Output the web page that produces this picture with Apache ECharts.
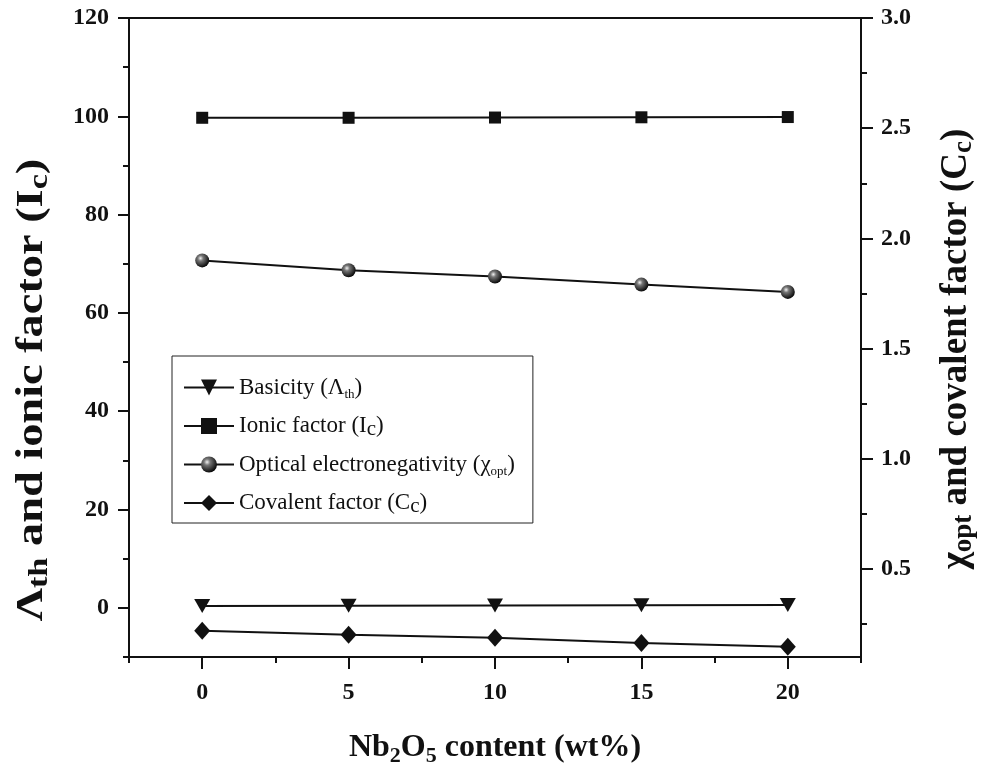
<!DOCTYPE html>
<html>
<head>
<meta charset="utf-8">
<script src="https://cdn.jsdelivr.net/npm/echarts@6/dist/echarts.min.js"></script>
<style>html,body{margin:0;padding:0;background:#fff;}#c{width:983px;height:774px;}</style>
</head>
<body>
<div id="c"></div>
<script>
const nb2o5 = [0, 5, 10, 15, 20];
const basicity = [0.4, 0.45, 0.5, 0.55, 0.6];
const ionicFactor = [99.7, 99.7, 99.75, 99.8, 99.85];
const opticalElectroneg = [1.90, 1.855, 1.827, 1.790, 1.757];
const covalentFactor = [0.219, 0.201, 0.187, 0.164, 0.146];
const leftTicks = [0, 20, 40, 60, 80, 100, 120];
const leftMinorTicks = [-10, 10, 30, 50, 70, 90, 110];
const rightTicks = [0.5, 1.0, 1.5, 2.0, 2.5, 3.0];
const rightMinorTicks = [0.25, 0.75, 1.25, 1.75, 2.25, 2.75];
const xTicks = [0, 5, 10, 15, 20];
const xMinorTicks = [-2.5, 2.5, 7.5, 12.5, 17.5, 22.5];
const seriesNames = ['Basicity', 'Ionic factor', 'Optical electronegativity', 'Covalent factor'];

const FONT = '"Liberation Serif", "Times New Roman", serif';
const chart = echarts.init(document.getElementById('c'));
const axisLine = {show: true, onZero: false, lineStyle: {color: '#111', width: 2}};
const labelStyle = {fontFamily: FONT, fontWeight: 'bold', fontSize: 24, color: '#111'};
const xNameRich = {
  b: {fontFamily: FONT, fontWeight: 'bold', fontSize: 32, lineHeight: 38, color: '#111'},
  n: {fontFamily: FONT, fontWeight: 'bold', fontSize: 22, lineHeight: 22, verticalAlign: 'bottom', color: '#111'}
};
const titleRich = {
  b: {fontFamily: FONT, fontWeight: 'bold', fontSize: 38, lineHeight: 44, fill: '#111'},
  s: {fontFamily: FONT, fontWeight: 'bold', fontSize: 28, lineHeight: 26, verticalAlign: 'bottom', fill: '#111'}
};
const rightTitleRich = {
  b: {fontFamily: FONT, fontWeight: 'bold', fontSize: 37, lineHeight: 44, fill: '#111'},
  s: {fontFamily: FONT, fontWeight: 'bold', fontSize: 27, lineHeight: 26, verticalAlign: 'bottom', fill: '#111'}
};
const legRich = {
  m: {fontFamily: FONT, fontSize: 23, lineHeight: 28, color: '#111'},
  s: {fontFamily: FONT, fontSize: 13, lineHeight: 14, verticalAlign: 'bottom', color: '#111'},
  c: {fontFamily: FONT, fontSize: 21, lineHeight: 18, verticalAlign: 'bottom', color: '#111'}
};
const legendLabels = {
  'Basicity': '{m|Basicity (Λ}{s|th}{m|)}',
  'Ionic factor': '{m|Ionic factor (I}{c|c}{m|)}',
  'Optical electronegativity': '{m|Optical electronegativity (χ}{s|opt}{m|)}',
  'Covalent factor': '{m|Covalent factor (C}{c|c}{m|)}'
};
const sphere = {type: 'radial', x: 0.38, y: 0.35, r: 0.65,
  colorStops: [{offset: 0, color: '#f2f2f2'}, {offset: 0.3, color: '#777'}, {offset: 1, color: '#0a0a0a'}]};

function pairs(ys) { return nb2o5.map((x, i) => [x, ys[i]]); }

chart.setOption({
  animation: false,
  backgroundColor: '#fff',
  grid: {left: 129, right: 122, top: 18, bottom: 117, show: true, borderColor: '#111', borderWidth: 2, backgroundColor: 'transparent'},
  graphic: [{
    type: 'text', x: 32, y: 390, rotation: Math.PI / 2, scaleX: 1.22, scaleY: 1,
    style: {text: '{b|Λ}{s|th}{b| and ionic factor (I}{s|c}{b|)}', rich: titleRich, align: 'center', verticalAlign: 'middle'}
  }, {
    type: 'text', x: 956, y: 349, rotation: Math.PI / 2,
    style: {text: '{b|χ}{s|opt}{b| and covalent factor (C}{s|c}{b|)}', rich: rightTitleRich, align: 'center', verticalAlign: 'middle'}
  }],
  legend: {
    orient: 'vertical', left: 172, top: 356,
    padding: [20, 18, 6, 11], itemGap: 13,
    itemWidth: 50, itemHeight: 20,
    borderColor: '#222', borderWidth: 1, backgroundColor: '#fff',
    data: seriesNames,
    formatter: n => legendLabels[n],
    textStyle: {rich: legRich}
  },
  xAxis: [{
    type: 'value', min: -2.5, max: 22.5, interval: 2.5,
    name: '{b|Nb}{n|2}{b|O}{n|5}{b| content (wt%)}', nameLocation: 'middle', nameGap: 72,
    nameTextStyle: {rich: xNameRich},
    axisLine: axisLine,
    axisTick: {show: true, inside: false, length: 12, lineStyle: {color: '#111', width: 2}, customValues: xTicks},
    axisLabel: {show: true, margin: 24, customValues: xTicks, ...labelStyle},
    splitLine: {show: false}
  }, {
    type: 'value', min: -2.5, max: 22.5, position: 'bottom',
    axisLine: {show: false, onZero: false},
    axisTick: {show: true, inside: false, length: 6, lineStyle: {color: '#111', width: 2}, customValues: xMinorTicks},
    axisLabel: {show: false}, splitLine: {show: false}
  }],
  yAxis: [{
    type: 'value', min: -10, max: 120, position: 'left',
    axisLine: axisLine,
    axisTick: {show: true, inside: false, length: 11, lineStyle: {color: '#111', width: 2}, customValues: leftTicks},
    axisLabel: {show: true, margin: 20, customValues: leftTicks, ...labelStyle},
    splitLine: {show: false}
  }, {
    type: 'value', min: 0.1, max: 3.0, position: 'right',
    axisLine: axisLine,
    axisTick: {show: true, inside: false, length: 12, lineStyle: {color: '#111', width: 2}, customValues: rightTicks},
    axisLabel: {show: true, margin: 20, customValues: rightTicks, formatter: v => v.toFixed(1), ...labelStyle},
    splitLine: {show: false}
  }, {
    type: 'value', min: -10, max: 120, position: 'left',
    axisLine: {show: false, onZero: false},
    axisTick: {show: true, inside: false, length: 6, lineStyle: {color: '#111', width: 2}, customValues: leftMinorTicks},
    axisLabel: {show: false}, splitLine: {show: false}
  }, {
    type: 'value', min: 0.1, max: 3.0, position: 'right',
    axisLine: {show: false, onZero: false},
    axisTick: {show: true, inside: false, length: 6, lineStyle: {color: '#111', width: 2}, customValues: rightMinorTicks},
    axisLabel: {show: false}, splitLine: {show: false}
  }],
  series: [{
    name: 'Basicity', type: 'line', yAxisIndex: 0, data: pairs(basicity),
    symbol: 'triangle', symbolRotate: 180, symbolSize: [16, 14],
    itemStyle: {color: '#111'}, lineStyle: {color: '#111', width: 2}
  }, {
    name: 'Ionic factor', type: 'line', yAxisIndex: 0, data: pairs(ionicFactor),
    symbol: 'rect', symbolSize: 12,
    itemStyle: {color: '#111'}, lineStyle: {color: '#111', width: 2}
  }, {
    name: 'Optical electronegativity', type: 'line', yAxisIndex: 1, data: pairs(opticalElectroneg),
    symbol: 'circle', symbolSize: 14,
    itemStyle: {color: sphere}, lineStyle: {color: '#111', width: 2}
  }, {
    name: 'Covalent factor', type: 'line', yAxisIndex: 1, data: pairs(covalentFactor),
    symbol: 'diamond', symbolSize: [16, 18],
    itemStyle: {color: '#111'}, lineStyle: {color: '#111', width: 2}
  }]
});
</script>
</body>
</html>
